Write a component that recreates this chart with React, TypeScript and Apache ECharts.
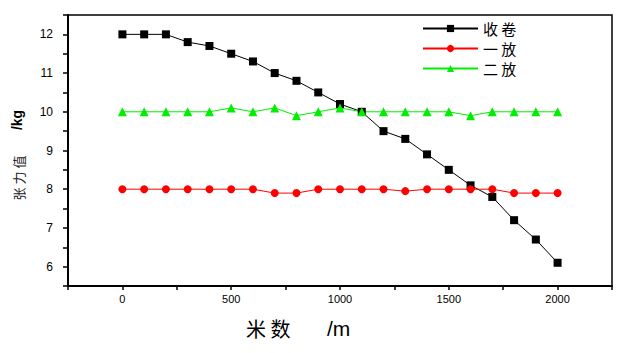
import React, { useEffect, useRef } from "react";
import * as echarts from "echarts";

const meters = [0, 100, 200, 300, 400, 500, 600, 700, 800, 900, 1000, 1100, 1200, 1300, 1400, 1500, 1600, 1700, 1800, 1900, 2000];
const seriesNames = ["收 卷", "一 放", "二 放"];
const windValues = [12, 12, 12, 11.8, 11.7, 11.5, 11.3, 11.0, 10.8, 10.5, 10.2, 10.0, 9.5, 9.3, 8.9, 8.5, 8.1, 7.8, 7.2, 6.7, 6.1];
const unwind1Values = [8, 8, 8, 8, 8, 8, 8, 7.9, 7.9, 8, 8, 8, 8, 7.95, 8, 8, 8, 8, 7.9, 7.9, 7.9];
const unwind2Values = [10, 10, 10, 10, 10, 10.1, 10, 10.1, 9.9, 10, 10.1, 10, 10, 10, 10, 10, 9.9, 10, 10, 10, 10];
const xTitle = "米 数";
const xUnit = "/m";
const yTitle = "张 力 值";
const yUnit = "/kg";

export default function App() {
  const ref = useRef<HTMLDivElement>(null);
  useEffect(() => {
    if (!ref.current) return;
    const chart = echarts.init(ref.current, null, { renderer: "svg" });
    const pair = (vals: number[]) => meters.map((m, i) => [m, vals[i]]);
    const colors = ["#000000", "#ff0000", "#00ee00"];
    const symbols = ["rect", "circle", "triangle"];
    const data = [windValues, unwind1Values, unwind2Values];
    chart.setOption({
      animation: false,
      grid: { left: 68, top: 15, right: 20, bottom: 67, show: true, borderColor: "#000", borderWidth: 1.5 },
      legend: {
        orient: "vertical",
        left: 422,
        top: 20,
        padding: 0,
        itemWidth: 55,
        itemHeight: 9,
        itemGap: 3,
        data: seriesNames,
        textStyle: { fontFamily: "Noto Sans CJK SC", fontSize: 15, color: "#000", lineHeight: 17 },
      },
      xAxis: {
        type: "value",
        min: -250,
        max: 2250,
        interval: 250,
        splitLine: { show: false },
        axisLine: { onZero: false, lineStyle: { color: "#000", width: 2 } },
        axisTick: { inside: false, length: 4, lineStyle: { color: "#000", width: 1.5 } },
        axisLabel: {
          margin: 7,
          fontFamily: "Liberation Sans",
          fontSize: 11,
          color: "#000",
          formatter: (v: number) => (v % 500 === 0 && v >= 0 && v <= 2000 ? String(v) : ""),
        },
      },
      yAxis: {
        type: "value",
        min: 5.5,
        max: 12.5,
        interval: 0.5,
        splitLine: { show: false },
        axisLine: { onZero: false, lineStyle: { color: "#000", width: 2 } },
        axisTick: { inside: false, length: 5, lineStyle: { color: "#000", width: 1.5 } },
        axisLabel: {
          margin: 15,
          fontFamily: "Liberation Sans",
          fontSize: 12,
          color: "#000",
          formatter: (v: number) => (Number.isInteger(v) && v >= 6 && v <= 12 ? String(v) : ""),
        },
      },
      graphic: [
        { type: "text", x: 18, y: 178, rotation: Math.PI / 2, style: { text: yTitle, font: "13px 'Noto Sans CJK SC'", fill: "#222", textAlign: "center", textVerticalAlign: "middle" } },
        { type: "text", x: 17, y: 120, rotation: Math.PI / 2, style: { text: yUnit, font: "bold 14px 'Liberation Sans'", fill: "#000", textAlign: "center", textVerticalAlign: "middle" } },
        { type: "text", x: 246, y: 328, style: { text: xTitle, font: "20px 'Noto Sans CJK SC'", fill: "#000", textAlign: "left", textVerticalAlign: "middle" } },
        { type: "text", x: 327, y: 328, style: { text: xUnit, font: "21px 'Liberation Sans'", fill: "#000", textAlign: "left", textVerticalAlign: "middle" } },
      ],
      series: seriesNames.map((name, i) => ({
        name,
        type: "line",
        data: pair(data[i]),
        symbol: symbols[i],
        symbolSize: i === 2 ? 9 : 8,
        showSymbol: true,
        lineStyle: { color: colors[i], width: 1 },
        itemStyle: { color: colors[i] },
      })),
    });
    return () => chart.dispose();
  }, []);
  return <div ref={ref} style={{ width: 632, height: 353, position: "absolute", left: 0, top: 0 }} />;
}
